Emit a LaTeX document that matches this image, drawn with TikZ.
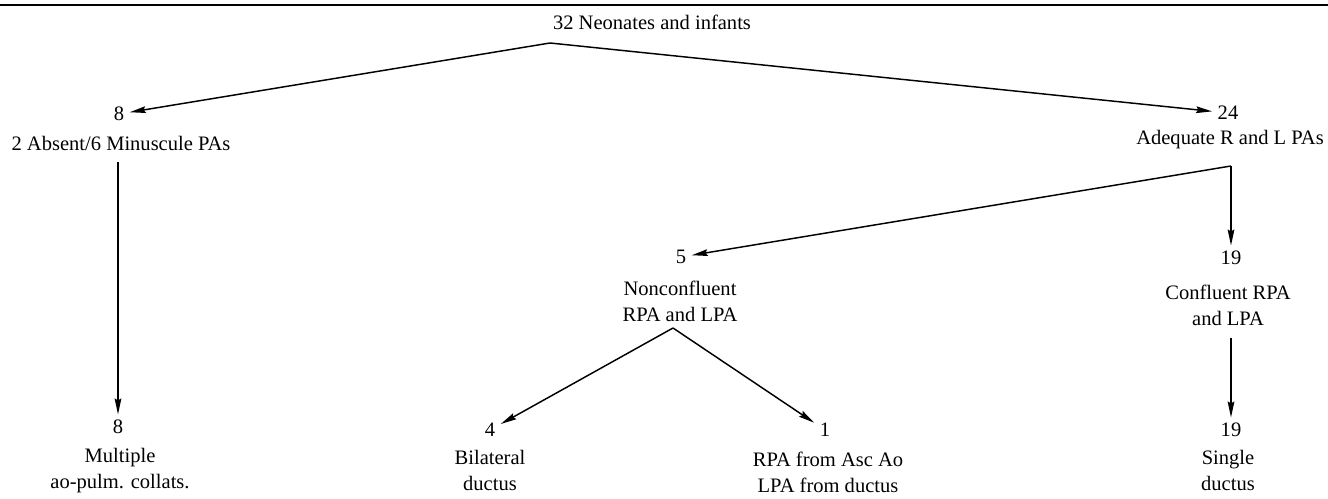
\documentclass[tikz,border=0pt]{standalone}
\usepackage{fontspec}
\setmainfont{Liberation Serif}
\usetikzlibrary{arrows.meta}
\begin{document}
\begin{tikzpicture}[x=0.75pt,y=-0.75pt,
  lbl/.style={font=\fontsize{15.4pt}{19.5pt}\selectfont, align=center, inner sep=0pt},
  num/.style={font=\fontsize{15.4pt}{19.5pt}\selectfont, inner sep=4pt},
  conn/.style={line width=1.1pt, -{Stealth[length=12pt,width=5pt,inset=1.5pt]}},
  seg/.style={line width=1.1pt},
  rule/.style={line width=1.8pt}]
\useasboundingbox (0,0) rectangle (1328,499);
\draw[rule] (0,5) -- (1328,5);

% nodes
\node[lbl] (title) at (652,22) {32 Neonates and infants};
\coordinate (A) at (550,43);

\node[num] (n8a) at (119,114) {8};
\node[lbl] (t8a) at (121,143) {2 Absent/6 Minuscule PAs};

\node[num] (n24) at (1228,113) {24};
\node[lbl] (t24) at (1230,140) {Adequate R and L PAs};
\coordinate (C) at (1231,166);

\node[num] (n5) at (681,257) {5};
\node[lbl] (t5) at (680,301) {Nonconfluent\\RPA and LPA};
\coordinate (D) at (673,328);

\node[num] (n19a) at (1231,258) {19};
\node[lbl] (t19a) at (1228,305) {Confluent RPA\\and LPA};

\node[num] (n8b) at (118,427) {8};
\node[lbl] (t8b) at (120,471) {Multiple\\ao-pulm. collats.};

\node[num] (n4) at (490,430) {4};
\node[lbl] (t4) at (490,470) {Bilateral\\ductus};

\node[num] (n1) at (825,430) {1};
\node[lbl] (t1) at (828,472) {RPA from Asc Ao\\LPA from ductus};

\node[num] (n19b) at (1231,430) {19};
\node[lbl] (t19b) at (1228,470) {Single\\ductus};

% connectors
\draw[conn] (A) -- (n8a);
\draw[conn] (A) -- (n24);
\draw[conn] ([yshift=-9pt]n8b |- t8a.south) -- (n8b);
\draw[conn] (C) -- (n5);
\draw[conn] (C) -- (n19a);
\draw[conn] (D) -- (n4);
\draw[conn] (D) -- (n1);
\draw[conn] ([yshift=-9pt]n19b |- t19a.south) -- (n19b);
\end{tikzpicture}
\end{document}
